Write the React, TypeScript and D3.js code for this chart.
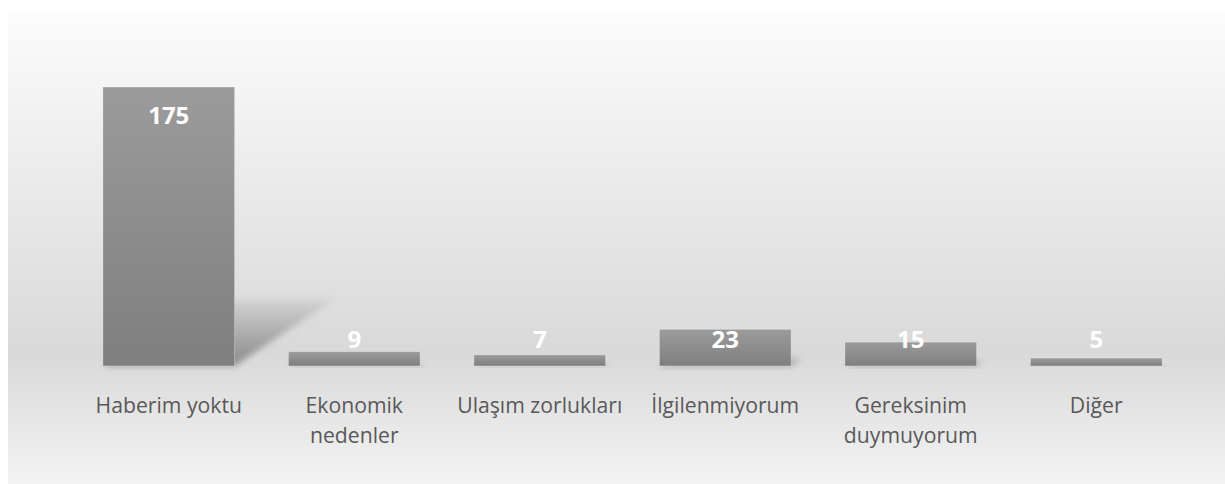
import React from 'react';
import * as d3 from 'd3';

// chart data
const categories = ['Haberim yoktu', 'Ekonomik nedenler', 'Ulaşım zorlukları', 'İlgilenmiyorum', 'Gereksinim duymuyorum', 'Diğer'];
const labelLines = [['Haberim yoktu'], ['Ekonomik', 'nedenler'], ['Ulaşım zorlukları'], ['İlgilenmiyorum'], ['Gereksinim', 'duymuyorum'], ['Diğer']];
const values = [175, 9, 7, 23, 15, 5];

const width = 1225;
const height = 484;
const baseY = 366;

const App: React.FC = () => {
  const x = d3.scaleBand<string>()
    .domain(categories)
    .range([76, 1189])
    .paddingInner(0.29)
    .paddingOuter(0.145);

  const y = d3.scaleLinear()
    .domain([0, 175])
    .range([baseY, 87]);

  const bw = x.bandwidth();

  return (
    <div>
      <style>{`body{margin:0}`}</style>
      <svg width={width} height={height} style={{ display: 'block' }}>
        <defs>
          <linearGradient id="bg" x1="0" y1="0" x2="0" y2="1">
            <stop offset="0" stopColor="#fcfcfc" />
            <stop offset="0.72" stopColor="#d9d9d9" />
            <stop offset="1" stopColor="#f3f3f3" />
          </linearGradient>
          <linearGradient id="barFill" x1="0" y1="0" x2="0" y2="1">
            <stop offset="0" stopColor="#9b9b9b" />
            <stop offset="1" stopColor="#7f7f7f" />
          </linearGradient>
          <linearGradient id="shadowFill" x1="0" y1="1" x2="0" y2="0">
            <stop offset="0" stopColor="#000" stopOpacity="0.36" />
            <stop offset="1" stopColor="#000" stopOpacity="0.05" />
          </linearGradient>
          <filter id="blur" x="-50%" y="-50%" width="200%" height="200%">
            <feGaussianBlur stdDeviation="3" />
          </filter>
        </defs>

        <rect x={8} y={12} width={width - 8} height={height - 12} fill="url(#bg)" />

        {/* perspective shadows */}
        {values.map((v, i) => {
          const x0 = x(categories[i])!;
          const h = baseY - y(v);
          const dx = h * 0.36;
          const dy = h * 0.24;
          const pts = [
            [x0, baseY],
            [x0 + bw, baseY],
            [x0 + bw + dx, baseY - dy],
            [x0 + dx, baseY - dy],
          ].map(p => p.join(',')).join(' ');
          return <polygon key={'s' + i} points={pts} fill="url(#shadowFill)" filter="url(#blur)" />;
        })}

        {/* bars */}
        {values.map((v, i) => (
          <rect
            key={'b' + i}
            x={x(categories[i])}
            y={y(v)}
            width={bw}
            height={baseY - y(v)}
            fill="url(#barFill)"
            stroke="#ffffff"
            strokeOpacity={0.3}
            strokeWidth={1}
          />
        ))}

        {/* value labels */}
        {values.map((v, i) => (
          <text
            key={'v' + i}
            x={x(categories[i])! + bw / 2}
            y={Math.min(y(v) + 37, 348)}
            textAnchor="middle"
            fontFamily="'Open Sans', sans-serif"
            fontWeight={700}
            fontSize={24}
            fill="#ffffff"
          >
            {v}
          </text>
        ))}

        {/* category labels */}
        {labelLines.map((lines, i) => (
          <text
            key={'c' + i}
            x={x(categories[i])! + bw / 2}
            y={413}
            textAnchor="middle"
            fontFamily="'Open Sans', sans-serif"
            fontSize={21.2}
            fill="#595959"
          >
            {lines.map((l, j) => (
              <tspan key={j} x={x(categories[i])! + bw / 2} dy={j === 0 ? 0 : 30}>{l}</tspan>
            ))}
          </text>
        ))}
      </svg>
    </div>
  );
};

export default App;
